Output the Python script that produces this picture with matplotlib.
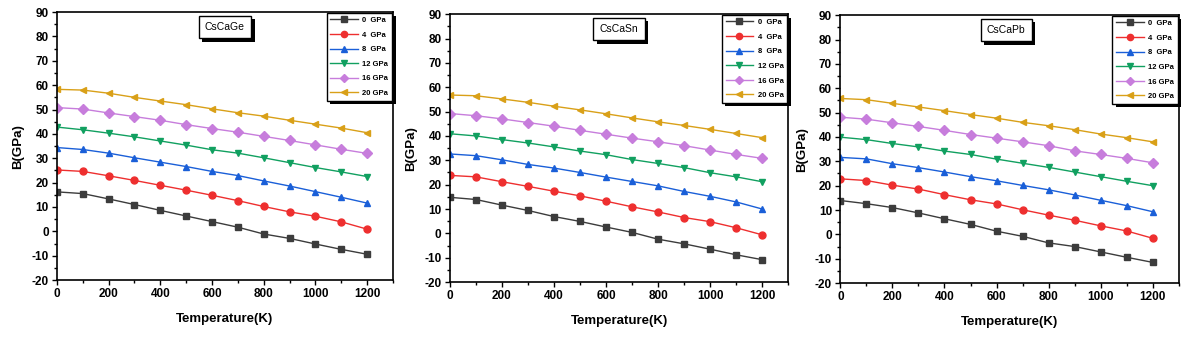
import numpy as np
import matplotlib.pyplot as plt
from matplotlib.ticker import MultipleLocator
import matplotlib.patheffects as pe

plt.rcParams['font.family'] = ['Liberation Sans', 'DejaVu Sans']
plt.rcParams['font.weight'] = 'bold'
plt.rcParams['axes.unicode_minus'] = False

temperature = [0, 100, 200, 300, 400, 500, 600, 700, 800, 900, 1000, 1100, 1200]
pressures = ["0  GPa", "4  GPa", "8  GPa", "12 GPa", "16 GPa", "20 GPa"]
compounds = ["CsCaGe", "CsCaSn", "CsCaPb"]

# bulk modulus B (GPa) for each pressure
b_cscage = [
    [16.2, 15.5, 13.3, 11.0, 8.6, 6.3, 4.0, 1.7, -1.1, -2.9, -5.2, -7.4, -9.4],
    [25.2, 24.6, 22.8, 20.9, 18.9, 16.9, 14.8, 12.6, 10.2, 8.0, 6.2, 3.9, 0.9],
    [34.4, 33.6, 32.1, 30.2, 28.4, 26.6, 24.6, 22.9, 20.7, 18.6, 16.3, 14.0, 11.6],
    [42.8, 41.7, 40.3, 38.8, 37.1, 35.4, 33.5, 32.1, 30.2, 28.2, 26.2, 24.4, 22.5],
    [50.8, 50.2, 48.6, 47.1, 45.6, 43.8, 42.2, 40.7, 39.0, 37.3, 35.5, 33.7, 32.0],
    [58.3, 58.0, 56.7, 55.0, 53.5, 52.0, 50.3, 48.7, 47.3, 45.6, 44.0, 42.4, 40.5],
]
b_cscasn = [
    [14.8, 13.9, 11.6, 9.4, 6.9, 4.9, 2.6, 0.4, -2.4, -4.3, -6.5, -8.8, -10.8],
    [23.8, 23.2, 21.2, 19.3, 17.3, 15.4, 13.2, 10.9, 8.8, 6.5, 4.8, 2.3, -0.6],
    [32.6, 31.9, 30.2, 28.3, 26.8, 25.0, 23.1, 21.3, 19.5, 17.2, 15.2, 12.9, 10.0],
    [40.9, 40.0, 38.5, 37.1, 35.5, 33.8, 32.3, 30.3, 28.7, 27.0, 24.9, 23.2, 21.2],
    [49.2, 48.3, 47.0, 45.5, 44.0, 42.3, 40.7, 39.1, 37.6, 36.0, 34.2, 32.4, 30.8],
    [56.8, 56.5, 55.2, 53.8, 52.2, 50.7, 49.1, 47.4, 45.8, 44.3, 42.7, 41.0, 39.3],
]
b_cscapb = [
    [13.9, 12.6, 11.0, 8.8, 6.4, 4.1, 1.3, -0.8, -3.5, -5.0, -7.2, -9.4, -11.5],
    [22.8, 22.1, 20.2, 18.6, 16.3, 14.2, 12.5, 10.1, 7.9, 5.8, 3.5, 1.4, -1.6],
    [31.6, 31.0, 29.0, 27.4, 25.6, 23.7, 22.0, 20.1, 18.3, 16.2, 14.0, 11.8, 9.3],
    [39.9, 38.9, 37.3, 35.9, 34.2, 32.8, 30.9, 29.2, 27.5, 25.6, 23.7, 21.8, 20.0],
    [48.1, 47.3, 45.8, 44.3, 42.7, 41.0, 39.5, 38.0, 36.4, 34.3, 32.8, 31.2, 29.4],
    [55.8, 55.3, 53.8, 52.3, 50.8, 49.2, 47.7, 46.0, 44.6, 43.0, 41.2, 39.7, 38.0],
]
all_data = [b_cscage, b_cscasn, b_cscapb]

colors = ["#3c3c3c", "#ee2f2f", "#1a5fd8", "#11a060", "#c77ddc", "#d9a018"]
markers = ["s", "o", "^", "v", "D", "<"]

# axes rectangles in figure fractions
positions = [
    [0.048, 0.169, 0.283, 0.795],
    [0.379, 0.163, 0.285, 0.795],
    [0.708, 0.160, 0.285, 0.795],
]
box_x = [0.50, 0.50, 0.49]

fig = plt.figure(figsize=(11.87, 3.37), dpi=100)
shadow = [pe.SimplePatchShadow(offset=(2.5, -2.5), shadow_rgbFace='black', alpha=1.0), pe.Normal()]

for k in range(3):
    ax = fig.add_axes(positions[k])
    for i in range(len(pressures)):
        ax.plot(temperature, all_data[k][i], color=colors[i], marker=markers[i],
                markersize=5, linewidth=1.0, label=pressures[i])
    ax.set_xlim(0, 1300)
    ax.set_ylim(-20, 90)
    ax.xaxis.set_major_locator(MultipleLocator(200))
    ax.xaxis.set_minor_locator(MultipleLocator(100))
    ax.yaxis.set_major_locator(MultipleLocator(10))
    ax.yaxis.set_minor_locator(MultipleLocator(5))
    ax.tick_params(which='both', direction='out', top=False, right=False,
                   labelsize=8.5, width=1.0, pad=2.5)
    ax.tick_params(which='major', length=3.5)
    ax.tick_params(which='minor', length=2)
    for lab in ax.get_xticklabels() + ax.get_yticklabels():
        lab.set_fontweight('bold')
    for s in ax.spines.values():
        s.set_linewidth(1.2)
    ax.set_xlabel("Temperature(K)", fontsize=9.5, fontweight='bold', labelpad=9)
    ax.set_ylabel("B(GPa)", fontsize=9.5, fontweight='bold', labelpad=5)

    leg = ax.legend(loc='upper right', fontsize=5.5, frameon=True, fancybox=False,
                    framealpha=1.0, borderaxespad=0.1, handlelength=3.6,
                    labelspacing=0.95, borderpad=0.5, handletextpad=0.6,
                    markerscale=0.9)
    leg.get_frame().set_edgecolor('black')
    leg.get_frame().set_linewidth(1.0)
    leg.get_frame().set_path_effects(shadow)

    t = ax.text(box_x[k], 0.945, compounds[k], transform=ax.transAxes,
                fontsize=7.5, fontweight='normal', ha='center', va='center',
                bbox=dict(boxstyle='square,pad=0.6', facecolor='white',
                          edgecolor='black', linewidth=1.0))
    t.get_bbox_patch().set_path_effects(shadow)

fig.savefig("out.png", dpi=100)
